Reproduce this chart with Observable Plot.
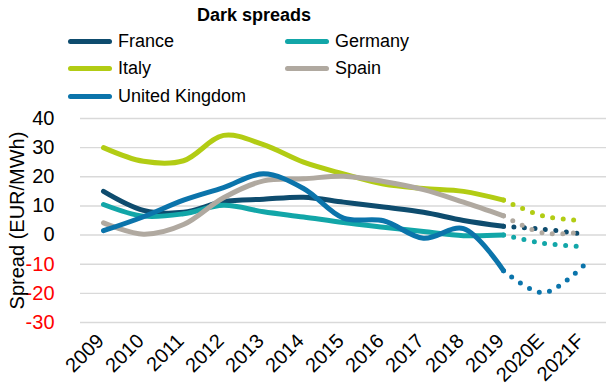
<!DOCTYPE html>
<html>
<head>
<meta charset="utf-8">
<script src="https://cdn.jsdelivr.net/npm/d3@7"></script>
<script src="https://cdn.jsdelivr.net/npm/@observablehq/plot@0.6"></script>
<style>
  body { margin: 0; background: #fff; font-family: "Liberation Sans", Arial, sans-serif; }
  #wrap { position: relative; width: 606px; height: 391px; overflow: hidden; }
  #title { position: absolute; left: 0; width: 508px; top: 5px; text-align: center; font-weight: bold; font-size: 18px; color: #000; }
  .leg { position: absolute; font-size: 18px; color: #000; display: flex; align-items: center; white-space: nowrap; }
  .sw { width: 44px; height: 5px; border-radius: 3px; margin-right: 6px; }
  #chart { position: absolute; left: 0; top: 108px; }
</style>
</head>
<body>
<div id="wrap">
  <div id="title">Dark spreads</div>
  <div id="legend"></div>
  <div id="chart"></div>
</div>
<script>
const categories = ["2009","2010","2011","2012","2013","2014","2015","2016","2017","2018","2019","2020E","2021F"];
const histYears = categories.slice(0, 11);
const forecastYears = ["2019","2020E","2021F"];
const countries = ["France","Germany","Italy","Spain","United Kingdom"];
const colors = ["#0e4c6e","#12a6a8","#b2cc14","#b0a9a0","#0b74ab"];

// historical values 2009..2019
const france  = [15, 8.5, 7.8, 11.5, 12.3, 13, 11.3, 9.6, 7.8, 5, 3];
const germany = [10.5, 6.5, 7.3, 10.2, 8, 6.2, 4.3, 2.7, 1.2, -0.2, 0];
const italy   = [30, 25.3, 25.5, 34.2, 31, 25, 21, 17.5, 16, 15, 12];
const spain   = [4.2, 0.3, 3.6, 12.8, 18.6, 19.3, 20.2, 18.4, 15.6, 11.3, 6.6];
const uk      = [1.5, 6.3, 12, 16.3, 21, 16, 5.8, 4.9, -1.1, 2.2, -12.2];

// forecast values 2019, 2020E, 2021F
const franceF  = [3, 2, 0.3];
const germanyF = [0, -2.8, -4];
const italyF   = [12, 6.5, 5];
const spainF   = [6.6, 0.7, 1.1];
const ukF      = [-12.2, -19.8, -10.5];

const yTicks = [-30, -20, -10, 0, 10, 20, 30, 40];

const hist = [france, germany, italy, spain, uk];
const fore = [franceF, germanyF, italyF, spainF, ukF];
const histData = countries.flatMap((c, i) => histYears.map((yr, j) => ({country: c, year: yr, value: hist[i][j]})));
const foreData = countries.flatMap((c, i) => forecastYears.map((yr, j) => ({country: c, year: yr, value: fore[i][j]})));

// legend
const legend = document.getElementById("legend");
const legPos = [[68, 31], [285, 31], [68, 58], [285, 58], [68, 86]];
countries.forEach((c, i) => {
  const d = document.createElement("div");
  d.className = "leg";
  d.style.left = legPos[i][0] + "px";
  d.style.top = legPos[i][1] + "px";
  d.innerHTML = `<span class="sw" style="background:${colors[i]}"></span><span>${c}</span>`;
  legend.appendChild(d);
});

const chart = Plot.plot({
  width: 606,
  height: 283,
  marginLeft: 80,
  marginRight: 0,
  marginTop: 10,
  marginBottom: 69,
  style: {fontFamily: "Liberation Sans, Arial, sans-serif", fontSize: "20px", background: "#fff"},
  x: {type: "point", domain: categories, range: [100, 586], padding: 0, label: null},
  y: {domain: [-30, 40], axis: null},
  color: {domain: countries, range: colors},
  marks: [
    Plot.ruleY(yTicks, {stroke: "#d9d9d9", strokeWidth: 1.4}),
    Plot.text(yTicks, {y: d => d, text: d => String(d), frameAnchor: "left", textAnchor: "end", dx: -26,
      fill: d => d < 0 ? "#ff0000" : "#000000", fontSize: 20}),
    Plot.axisX({tickSize: 0, tickRotate: -45, tickPadding: 15, dx: -3, fontSize: 20, color: "#000", label: null}),
    Plot.text(["Spread (EUR/MWh)"], {frameAnchor: "left", textAnchor: "middle", dx: -63, rotate: -90, fontSize: 20, fill: "#000"}),
    Plot.line(histData, {x: "year", y: "value", z: "country", stroke: "country", strokeWidth: 5,
      curve: "catmull-rom", strokeLinecap: "round", strokeLinejoin: "round"}),
    Plot.line(foreData, {x: "year", y: "value", z: "country", stroke: "country", strokeWidth: 5,
      curve: "catmull-rom", strokeLinecap: "round", strokeDasharray: "0 10.5", strokeDashoffset: -10.5})
  ]
});
document.getElementById("chart").appendChild(chart);
</script>
</body>
</html>
